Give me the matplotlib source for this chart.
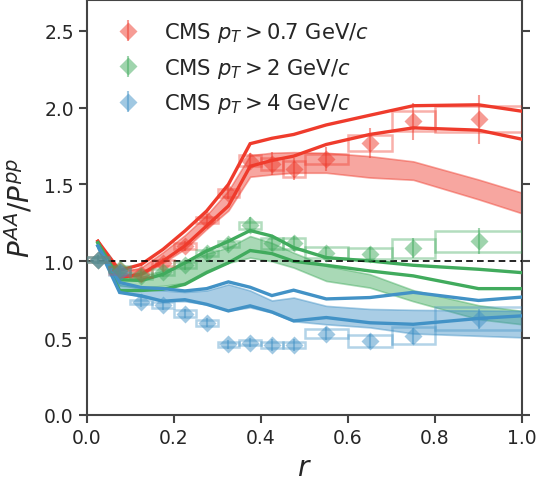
import matplotlib
matplotlib.use("Agg")
import matplotlib.pyplot as plt
from matplotlib.patches import Rectangle
import numpy as np

# ---- CMS data ----
r_data = [0.025, 0.075, 0.125, 0.175, 0.225, 0.275, 0.325, 0.375, 0.425, 0.475, 0.55, 0.65, 0.75, 0.9]
bin_half = [0.025] * 10 + [0.05] * 3 + [0.1]

red_val = [1.01, 0.94, 0.92, 0.99, 1.10, 1.27, 1.445, 1.655, 1.635, 1.60, 1.665, 1.77, 1.91, 1.925]
red_stat = [0.03, 0.03, 0.03, 0.03, 0.03, 0.04, 0.04, 0.05, 0.075, 0.07, 0.08, 0.095, 0.12, 0.16]
red_sys = [0.015, 0.02, 0.02, 0.02, 0.02, 0.02, 0.025, 0.035, 0.04, 0.05, 0.03, 0.053, 0.065, 0.085]

green_val = [1.01, 0.95, 0.905, 0.93, 0.975, 1.055, 1.11, 1.235, 1.117, 1.117, 1.055, 1.05, 1.085, 1.13]
green_stat = [0.03, 0.03, 0.03, 0.03, 0.03, 0.04, 0.04, 0.05, 0.05, 0.05, 0.04, 0.045, 0.065, 0.085]
green_sys = [0.015, 0.02, 0.02, 0.02, 0.02, 0.02, 0.02, 0.022, 0.035, 0.035, 0.035, 0.038, 0.063, 0.07]

blue_val = [1.01, 0.93, 0.735, 0.715, 0.66, 0.60, 0.46, 0.47, 0.455, 0.455, 0.53, 0.48, 0.515, 0.625]
blue_stat = [0.03, 0.03, 0.03, 0.03, 0.03, 0.03, 0.03, 0.03, 0.04, 0.04, 0.04, 0.045, 0.05, 0.065]
blue_sys = [0.015, 0.02, 0.015, 0.02, 0.02, 0.02, 0.015, 0.015, 0.02, 0.02, 0.03, 0.04, 0.055, 0.075]

labels = [r"CMS $p_T > 0.7$ GeV/$c$", r"CMS $p_T > 2$ GeV/$c$", r"CMS $p_T > 4$ GeV/$c$"]

# ---- model curves ----
r_th = [0.025, 0.075, 0.125, 0.175, 0.225, 0.275, 0.325, 0.375, 0.425, 0.475, 0.55, 0.65, 0.75, 0.9, 1.0]

red_up = [1.13, 0.94, 0.98, 1.078, 1.197, 1.327, 1.50, 1.765, 1.80, 1.825, 1.887, 1.95, 2.012, 2.018, 1.976]
red_lo = [1.13, 0.894, 0.916, 1.002, 1.10, 1.23, 1.36, 1.618, 1.656, 1.684, 1.76, 1.825, 1.868, 1.853, 1.794]
red_band_hi = [1.12, 0.93, 0.96, 1.06, 1.17, 1.30, 1.46, 1.69, 1.706, 1.71, 1.706, 1.684, 1.65, 1.532, 1.446]
red_band_lo = [1.10, 0.89, 0.91, 0.99, 1.08, 1.21, 1.33, 1.55, 1.565, 1.576, 1.576, 1.545, 1.53, 1.403, 1.312]

green_up = [1.12, 0.88, 0.875, 0.916, 0.99, 1.067, 1.13, 1.20, 1.164, 1.089, 1.024, 1.002, 0.974, 0.948, 0.926]
green_lo = [1.12, 0.81, 0.81, 0.818, 0.85, 0.926, 0.99, 1.07, 1.05, 1.0, 0.974, 0.937, 0.905, 0.822, 0.822]
green_band_hi = [1.11, 0.93, 0.90, 0.94, 0.99, 1.05, 1.09, 1.164, 1.12, 1.056, 0.97, 0.916, 0.812, 0.714, 0.677]
green_band_lo = [1.09, 0.84, 0.83, 0.84, 0.86, 0.94, 0.99, 1.024, 1.0, 0.959, 0.872, 0.829, 0.74, 0.623, 0.59]

blue_up = [1.10, 0.862, 0.829, 0.822, 0.807, 0.822, 0.866, 0.831, 0.777, 0.812, 0.755, 0.764, 0.798, 0.745, 0.767]
blue_lo = [1.10, 0.797, 0.775, 0.74, 0.75, 0.72, 0.677, 0.71, 0.67, 0.612, 0.634, 0.60, 0.59, 0.628, 0.645]
blue_band_hi = [1.09, 0.85, 0.82, 0.81, 0.80, 0.81, 0.85, 0.81, 0.745, 0.764, 0.71, 0.69, 0.684, 0.68, 0.677]
blue_band_lo = [1.08, 0.80, 0.77, 0.74, 0.74, 0.72, 0.68, 0.70, 0.667, 0.61, 0.59, 0.57, 0.53, 0.515, 0.505]

colors = ["#ef3b2c", "#41ab5d", "#4292c6"]

plt.rcParams["font.family"] = ["DejaVu Sans"]
plt.rcParams["mathtext.fontset"] = "dejavusans"
text_col = "#262626"

fig = plt.figure(figsize=(5.39, 4.85), dpi=100)
ax = fig.add_axes([0.1614, 0.1423, 0.8071, 0.8557])

series = [
    (red_val, red_stat, red_sys, red_up, red_lo, red_band_hi, red_band_lo),
    (green_val, green_stat, green_sys, green_up, green_lo, green_band_hi, green_band_lo),
    (blue_val, blue_stat, blue_sys, blue_up, blue_lo, blue_band_hi, blue_band_lo),
]

for (val, stat, sys_, up, lo, bhi, blo), c in zip(series, colors):
    ax.fill_between(r_th, blo, bhi, color=c, alpha=0.45, linewidth=1.2, zorder=2)
    ax.plot(r_th, up, color=c, lw=2.4, zorder=3, solid_joinstyle="miter")
    ax.plot(r_th, lo, color=c, lw=2.4, zorder=3, solid_joinstyle="miter")

handles = []
for (val, stat, sys_, up, lo, bhi, blo), c, lab in zip(series, colors, labels):
    for x, v, s, hw in zip(r_data, val, sys_, bin_half):
        ax.add_patch(Rectangle((x - hw, v - s), 2 * hw, 2 * s, fill=False,
                               edgecolor=c, alpha=0.4, lw=1.8, zorder=4))
    h = ax.errorbar(r_data, val, yerr=stat, fmt="D", ms=9, color=c, mec="none",
                    alpha=0.5, elinewidth=1.5, capsize=0, zorder=5, label=lab)
    handles.append(h)

ax.axhline(1.0, color="black", ls="--", lw=1.2, dashes=(4, 2.5), zorder=3.5)

ax.set_xlim(0, 1)
ax.set_ylim(0, 2.7)
ax.set_xticks([0, 0.2, 0.4, 0.6, 0.8, 1.0])
ax.set_yticks([0, 0.5, 1.0, 1.5, 2.0, 2.5])
ax.tick_params(axis="both", direction="out", length=6, width=1.5, labelsize=13.5,
               colors="#444444", labelcolor=text_col, right=True, top=False)
for sp in ax.spines.values():
    sp.set_color("#444444")
    sp.set_linewidth(1.5)

ax.set_xlabel(r"$r$", fontsize=20, color=text_col, labelpad=4)
ax.set_ylabel(r"$P^{AA}/P^{pp}$", fontsize=20, color=text_col, labelpad=6)

leg = ax.legend(handles=handles, labels=labels, loc="upper left", frameon=False,
                fontsize=15.2, handletextpad=0.7, labelspacing=0.55,
                borderaxespad=0.55, handlelength=2.0)
for t in leg.get_texts():
    t.set_color(text_col)

fig.savefig("out.png", dpi=100)
